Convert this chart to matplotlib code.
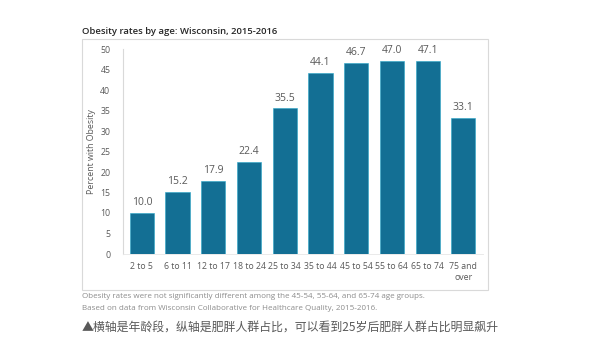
import matplotlib.pyplot as plt
from matplotlib.patches import Rectangle

age_groups = ['2 to 5', '6 to 11', '12 to 17', '18 to 24', '25 to 34', '35 to 44',
              '45 to 54', '55 to 64', '65 to 74', '75 and\nover']
rates = [10.0, 15.2, 17.9, 22.4, 35.5, 44.1, 46.7, 47.0, 47.1, 33.1]
yticks = [0, 5, 10, 15, 20, 25, 30, 35, 40, 45, 50]

title = 'Obesity rates by age: Wisconsin, 2015-2016'
notes = ['Obesity rates were not significantly different among the 45-54, 55-64, and 65-74 age groups.',
         'Based on data from Wisconsin Collaborative for Healthcare Quality, 2015-2016.']
caption = '▲横轴是年龄段，纵轴是肥胖人群占比，可以看到25岁后肥胖人群占比明显飙升'

plt.rcParams['font.family'] = ['Open Sans', 'DejaVu Sans']
grey = '#595959'

fig = plt.figure(figsize=(6, 3.6), dpi=100)
fig.patch.set_facecolor('white')

# outer chart frame
fig.patches.append(Rectangle((82 / 600, 1 - 290 / 360), 406 / 600, 251 / 360,
                             transform=fig.transFigure, fill=False,
                             edgecolor='#d9d9d9', linewidth=0.8))

ax = fig.add_axes([123 / 600, 1 - 254 / 360, 360 / 600, 205 / 360])
x = range(len(rates))
ax.bar(x, rates, width=0.68, color='#136f94', edgecolor='#2aa6c8', linewidth=0.4)
for xi, v in zip(x, rates):
    ax.text(xi, v + 1.2, f'{v:.1f}', ha='center', va='bottom', fontsize=7.5, color=grey)

ax.set_xlim(-0.53, len(rates) - 0.45)
ax.set_ylim(0, 50)
ax.set_yticks(yticks)
ax.set_xticks(list(x))
ax.set_xticklabels(age_groups)
ax.tick_params(axis='both', length=0, labelsize=6.3, colors=grey)
ax.tick_params(axis='y', pad=9)
ax.tick_params(axis='x', pad=6)
ax.set_ylabel('Percent with Obesity', fontsize=6.3, color=grey, labelpad=3)
for s in ['top', 'right']:
    ax.spines[s].set_visible(False)
ax.spines['left'].set_color('#d9d9d9')
ax.spines['left'].set_linewidth(0.8)
ax.spines['bottom'].set_color('#e6e6e6')
ax.spines['bottom'].set_linewidth(0.6)

fig.text(82 / 600, 1 - 31 / 360, title, fontsize=6.8, color='#262626',
         ha='left', va='center', fontweight='semibold')
fig.text(82 / 600, 1 - 297 / 360, notes[0], fontsize=5.8, color='#8c8c8c', ha='left', va='center')
fig.text(82 / 600, 1 - 308 / 360, notes[1], fontsize=5.8, color='#8c8c8c', ha='left', va='center')
fig.text(82 / 600, 1 - 327 / 360, caption, fontsize=8.6, color=grey, ha='left', va='center',
         family=['Noto Sans CJK SC', 'DejaVu Sans'])

fig.savefig('out.png', dpi=100)
